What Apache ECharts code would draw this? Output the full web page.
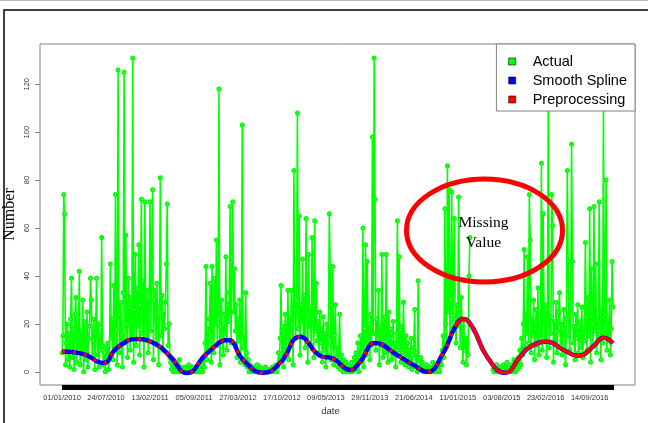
<!DOCTYPE html>
<html>
<head>
<meta charset="utf-8">
<script src="https://cdn.jsdelivr.net/npm/echarts@6/dist/echarts.min.js"></script>
<style>
html, body { margin: 0; padding: 0; background: #fff; }
#main { width: 648px; height: 423px; }
</style>
</head>
<body>
<div id="main"></div>
<script>
// Actual: counts read every 4 days from 01/01/2010, null = missing value
var startDate = '2010-01-01';
var endDate = '2016-12-31';
var actualStep = 4;
var actualValues = [
    8, 15, 74, 66, 3, 12, 20, 5, 16, 2, 22, 39, 6, 18, 1, 24, 31, 4, 19, 9,
    42, 3, 17, 8, 30, 0, 21, 11, 5, 25, 2, 14, 19, 39, 30, 6, 13, 22, 1, 16,
    39, 7, 20, 2, 15, 9, 56, 11, 3, 8, 0, 10, 4, 12, 1, 6, 45, 14, 22, 5,
    36, 10, 74, 18, 3, 126, 24, 8, 29, 15, 2, 33, 125, 12, 57, 20, 6, 39, 27, 9,
    31, 14, 131, 4, 26, 49, 11, 35, 19, 53, 7, 28, 72, 16, 38, 2, 71, 23, 13, 34,
    8, 25, 71, 17, 48, 76, 5, 30, 34, 12, 37, 21, 3, 27, 81, 15, 32, 9, 24, 18,
    29, 45, 70, 11, 20, 6, 4, 1, 3, 0, 2, 1, 0, 3, 1, 0, 5, 0, 2, 1,
    0, 1, 0, 2, 0, 0, 1, 3, 0, 1, 0, 0, 2, 0, 1, 0, 0, 1, 0, 2,
    0, 1, 3, 0, 6, 2, 12, 44, 5, 18, 9, 22, 37, 4, 44, 15, 8, 39, 20, 55,
    11, 26, 118, 3, 19, 30, 14, 7, 24, 16, 48, 9, 28, 21, 33, 69, 12, 48, 71, 25,
    43, 17, 28, 6, 22, 13, 30, 4, 18, 103, 10, 15, 3, 33, 8, 2, 5, 0, 3, 1,
    0, 2, 0, 1, 0, 0, 3, 0, 1, 0, 2, 0, 0, 1, 0, 0, 2, 0, 1, 0,
    0, 1, 0, 0, 2, 0, 1, 0, 3, 0, 2, 8, 4, 14, 36, 6, 19, 2, 11, 24,
    9, 16, 34, 5, 22, 12, 34, 20, 3, 84, 26, 14, 30, 108, 18, 65, 7, 28, 21, 47,
    15, 32, 10, 64, 24, 4, 49, 19, 27, 11, 56, 22, 6, 63, 17, 37, 13, 21, 8, 25,
    12, 18, 4, 23, 9, 16, 2, 20, 7, 14, 66, 44, 5, 11, 44, 3, 15, 28, 6, 10,
    2, 9, 24, 1, 7, 3, 0, 5, 1, 4, 0, 2, 0, 3, 0, 1, 4, 0, 2, 6,
    1, 8, 3, 12, 0, 6, 15, 4, 10, 60, 2, 18, 53, 7, 46, 13, 20, 5, 24, 11,
    98, 16, 131, 72, 9, 22, 14, 34, 3, 19, 11, 49, 6, 17, 23, 8, 49, 13, 4, 25,
    10, 18, 5, 14, 21, 7, 12, 2, 16, 63, 9, 48, 13, 4, 19, 8, 29, 11, 3, 15,
    6, 12, 2, 9, 4, 14, 1, 7, 10, 26, 3, 8, 0, 38, 5, 2, 6, 1, 4, 0,
    2, 0, 1, 3, 0, 0, 2, 0, 1, 0, 4, 0, 1, 0, 2, 0, 3, 1, 0, 5,
    3, 9, 15, 6, 68, 20, 11, 86, 25, 76, 14, 30, 75, 18, 34, 64, 22, 12, 28, 19,
    73, 26, 10, 31, 17, 4, 22, 9, 14, 3, 12, 7, 40, 56, null, null, null, null, null, null,
    null, null, null, null, null, null, null, null, null, null, null, null, null, null, null, null, null, null, null, null,
    1, 0, 2, 0, 3, 0, 1, 0, 0, 2, 0, 1, 3, 0, 2, 0, 4, 1, 0, 2,
    0, 3, 1, 0, 5, 2, 0, 4, 1, 6, 2, 9, 3, 14, 7, 20, 51, 10, 24, 16,
    48, 12, 74, 55, 8, 22, 15, 30, 5, 18, 26, 11, 35, 7, 20, 14, 87, 9, 66, 24,
    13, 28, 6, 19, 115, 10, 23, 16, 74, 61, 4, 21, 12, 29, 8, 17, 25, 33, 11, 20,
    7, 18, 26, 13, 3, 22, 84, 46, 15, 9, 30, 95, 46, 12, 19, 5, 24, 14, 28, 8,
    16, 21, 10, 27, 6, 18, 13, 54, 23, 9, 31, 15, 68, 4, 43, 20, 11, 69, 17, 45,
    8, 22, 14, 71, 19, 5, 26, 12, 110, 16, 24, 80, 9, 21, 13, 30, 7, 18, 46, 27
];

// smooth spline (and preprocessed series) knots
var splineDates = [
    '2010-01-01', '2010-04-08', '2010-07-10', '2010-09-13', '2010-12-15', '2011-03-18',
    '2011-05-17', '2011-08-04', '2011-11-05', '2012-02-10', '2012-04-20', '2012-07-22',
    '2012-10-09', '2013-01-09', '2013-04-12', '2013-06-12', '2013-08-30', '2013-10-15',
    '2013-12-24', '2014-04-05', '2014-06-18', '2014-08-22', '2014-11-04', '2014-12-30',
    '2015-02-05', '2015-03-19', '2015-05-27', '2015-08-19', '2015-10-27', '2015-12-13',
    '2016-03-01', '2016-05-14', '2016-07-23', '2016-09-30', '2016-11-16', '2016-12-31'
];
var splineValues = [
    8.5, 7.5, 3.7, 10, 13.7, 11.2,
    6.5, -0.5, 7.8, 13.3, 5, -0.4,
    3.7, 14.6, 6.7, 5.5, 0.8, 4.2,
    12, 7, 2.9, 0, 7.8, 18.8,
    22, 18.8, 6.3, -0.4, 6.3, 10.5,
    12.5, 9.2, 6.7, 10.5, 14.2, 12
];
// preprocessing drawn solid from here on
var solidFrom = '2014-12-30';

var tickLabels = ['01/01/2010', '24/07/2010', '13/02/2011', '05/09/2011', '27/03/2012', '17/10/2012',
    '09/05/2013', '29/11/2013', '21/06/2014', '11/01/2015', '03/08/2015', '23/02/2016', '14/09/2016'];
var tickStep = 204;
var yTicks = [0, 20, 40, 60, 80, 100, 120];

// annotation (data space)
var noteDate = '2015-05-15';
var noteValue = 59;

function dayOf(s) {
    var p = s.split('-');
    var a = Date.UTC(+p[0], +p[1] - 1, +p[2]);
    var b = Date.UTC(2010, 0, 1);
    return Math.round((a - b) / 86400000);
}

var lastDay = dayOf(endDate);
var pad = lastDay * 0.04;

var actualData = [];
for (var i = 0; i < actualValues.length; i++) {
    actualData.push([dayOf(startDate) + i * actualStep, actualValues[i]]);
}

var splineData = [];
var solidData = [];
for (var j = 0; j < splineDates.length; j++) {
    var d = dayOf(splineDates[j]);
    splineData.push([d, splineValues[j]]);
    if (d >= dayOf(solidFrom)) {
        solidData.push([d, splineValues[j]]);
    }
}

var tickDays = [];
for (var k = 0; k < tickLabels.length; k++) {
    tickDays.push(k * tickStep);
}

// every day gets a tick -> black bar under the plot
var dayTicks = [];
for (var t = 0; t <= lastDay; t++) {
    dayTicks.push(t);
}

var chart = echarts.init(document.getElementById('main'));

chart.setOption({
    animation: false,
    backgroundColor: '#fff',
    grid: {
        left: 40,
        right: 13,
        top: 44,
        bottom: 38,
        outerBoundsMode: 'none',
        show: true,
        borderColor: '#808080',
        borderWidth: 1
    },
    legend: {
        data: ['Actual', 'Smooth Spline', 'Preprocessing'],
        orient: 'vertical',
        right: 13,
        top: 44,
        icon: 'rect',
        itemWidth: 7,
        itemHeight: 7,
        itemGap: 0,
        padding: [8, 8, 2, 12],
        backgroundColor: '#fff',
        borderColor: '#808080',
        borderWidth: 1,
        borderRadius: 0,
        itemStyle: { borderColor: '#000', borderWidth: 0.6 },
        textStyle: {
            fontFamily: 'Liberation Sans',
            fontSize: 14.5,
            color: '#000',
            lineHeight: 19,
            padding: [0, 0, 0, 12]
        }
    },
    xAxis: {
        type: 'value',
        min: -pad,
        max: lastDay + pad,
        name: 'date',
        nameLocation: 'middle',
        nameGap: 21,
        nameMoveOverlap: false,
        nameTextStyle: { fontFamily: 'Liberation Sans', fontSize: 9.5, color: '#333', padding: [0, 14, 0, 0] },
        axisLine: { show: false, onZero: false },
        splitLine: { show: false },
        axisTick: {
            show: true,
            customValues: dayTicks,
            length: 5,
            lineStyle: { color: '#000', width: 1 }
        },
        axisLabel: {
            customValues: tickDays,
            margin: 9,
            fontFamily: 'Liberation Sans',
            fontSize: 7.5,
            color: '#333',
            formatter: function (v) {
                var idx = tickDays.indexOf(v);
                return idx >= 0 ? tickLabels[idx] : '';
            }
        }
    },
    yAxis: {
        type: 'value',
        min: -5.5,
        max: 136.8,
        name: 'Number',
        nameLocation: 'middle',
        nameGap: 22,
        nameMoveOverlap: false,
        nameTextStyle: { fontFamily: 'Liberation Serif', fontSize: 16, color: '#000' },
        axisLine: { show: false, onZero: false },
        splitLine: { show: false },
        axisTick: {
            show: true,
            customValues: yTicks,
            length: 5,
            lineStyle: { color: '#808080' }
        },
        axisLabel: {
            customValues: yTicks,
            rotate: 90,
            margin: 9,
            fontFamily: 'Liberation Sans',
            fontSize: 7.5,
            color: '#333'
        }
    },
    series: [
        {
            name: 'Actual',
            type: 'line',
            data: actualData,
            z: 2,
            connectNulls: false,
            symbol: 'emptyCircle',
            symbolSize: 3,
            showSymbol: true,
            showAllSymbol: true,
            itemStyle: { color: '#00ff00', borderWidth: 1 },
            lineStyle: { color: '#00ff00', width: 1.6 }
        },
        {
            name: 'Smooth Spline',
            type: 'line',
            data: splineData,
            z: 3,
            smooth: true,
            showSymbol: false,
            itemStyle: { color: '#0000ff' },
            lineStyle: { color: '#0000ff', width: 4.5 }
        },
        {
            name: 'Preprocessing',
            type: 'line',
            data: splineData,
            z: 4,
            smooth: true,
            showSymbol: false,
            itemStyle: { color: '#ff0000' },
            lineStyle: { color: '#ff0000', width: 3.5, type: [3, 8] }
        },
        {
            name: 'Preprocessing',
            type: 'line',
            data: solidData,
            z: 4,
            smooth: true,
            showSymbol: false,
            itemStyle: { color: '#ff0000' },
            lineStyle: { color: '#ff0000', width: 3.5 }
        }
    ]
});

// "Missing Value" ellipse + text placed in data space
var c = chart.convertToPixel({ gridIndex: 0 }, [dayOf(noteDate), noteValue]);
var cx = chart.convertToPixel({ gridIndex: 0 }, [dayOf(noteDate) + 362, noteValue]);
var cy = chart.convertToPixel({ gridIndex: 0 }, [dayOf(noteDate), noteValue + 21.5]);

chart.setOption({
    graphic: [
        {
            type: 'rect',
            z: 0,
            silent: true,
            shape: { x: 4, y: 10, width: 700, height: 500 },
            style: { fill: 'none', stroke: '#000', lineWidth: 1.5 }
        },
        {
            type: 'line',
            z: 0,
            silent: true,
            shape: { x1: 0, y1: 0.5, x2: 648, y2: 0.5 },
            style: { stroke: '#bbb', lineWidth: 1 }
        },
        {
            type: 'ellipse',
            z: 100,
            silent: true,
            shape: { cx: c[0], cy: c[1], rx: cx[0] - c[0], ry: c[1] - cy[1] },
            style: { fill: 'none', stroke: '#ff0000', lineWidth: 5 }
        },
        {
            type: 'text',
            z: 101,
            silent: true,
            x: c[0] - 1,
            y: c[1] - 8,
            style: {
                text: 'Missing',
                font: '15.5px "Liberation Serif"',
                fill: '#000',
                align: 'center',
                verticalAlign: 'middle'
            }
        },
        {
            type: 'text',
            z: 101,
            silent: true,
            x: c[0] - 1,
            y: c[1] + 12,
            style: {
                text: 'Value',
                font: '15.5px "Liberation Serif"',
                fill: '#000',
                align: 'center',
                verticalAlign: 'middle'
            }
        }
    ]
});
</script>
</body>
</html>
